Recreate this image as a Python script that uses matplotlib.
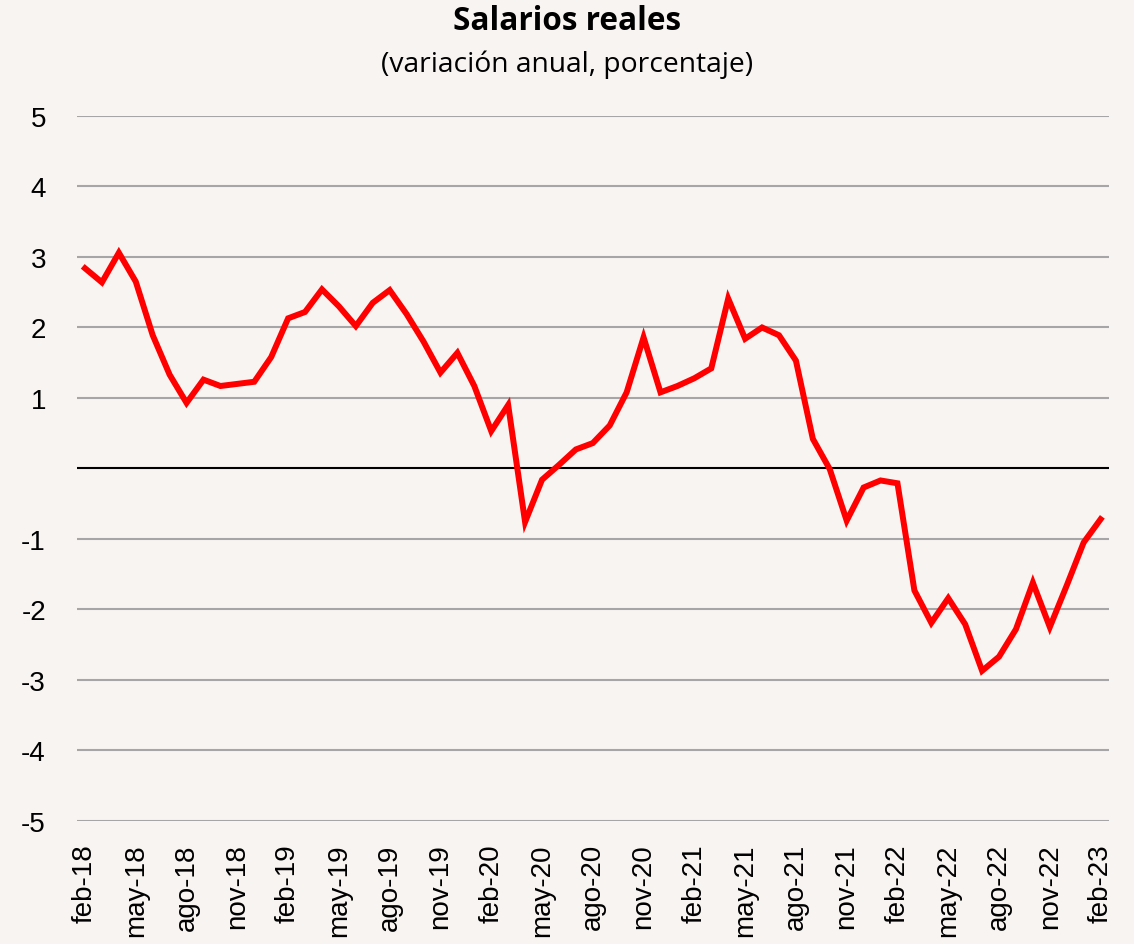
import matplotlib.pyplot as plt

# monthly real wage growth, feb-18 .. feb-23
months = ['ene', 'feb', 'mar', 'abr', 'may', 'jun', 'jul', 'ago', 'sep', 'oct', 'nov', 'dic']
values = [2.84, 2.64, 3.06, 2.65, 1.89, 1.33, 0.93, 1.26, 1.17, 1.20, 1.23, 1.58,
          2.13, 2.22, 2.54, 2.30, 2.02, 2.35, 2.53, 2.19, 1.80, 1.36, 1.64, 1.17,
          0.53, 0.90, -0.76, -0.16, 0.05, 0.27, 0.36, 0.61, 1.08, 1.86, 1.08, 1.17,
          1.28, 1.42, 2.41, 1.84, 2.00, 1.89, 1.53, 0.42, -0.01, -0.74, -0.27, -0.17,
          -0.21, -1.73, -2.19, -1.84, -2.21, -2.87, -2.67, -2.28, -1.62, -2.25, -1.66, -1.05,
          -0.72]

labels = []
for i in range(len(values)):
    m = (1 + i) % 12
    y = 18 + (1 + i) // 12
    labels.append(f'{months[m]}-{y}')

bg = '#f7f4f1'
fig = plt.figure(figsize=(11.34, 9.45), dpi=100, facecolor=bg)
ax = fig.add_axes([0.0675, 0.1302, 0.9105, 0.746], facecolor=bg)

x = list(range(len(values)))
ax.plot(x, values, color='#ff0000', lw=4.3, solid_joinstyle='miter', zorder=3)

ax.set_xlim(-0.5, len(values) - 0.5)
ax.set_ylim(-5, 5)
yticks = [5, 4, 3, 2, 1, -1, -2, -3, -4, -5]
ax.set_yticks(yticks)
ax.set_yticklabels([str(t) for t in yticks])
for t in yticks:
    ax.axhline(t, color='#a6a6a6', lw=1.5, zorder=1)
ax.axhline(0, color='black', lw=1.5, zorder=2)

ax.set_xticks(x[::3])
ax.set_xticklabels(labels[::3], rotation=90, family='Liberation Sans', fontsize=20)
for lab in ax.get_yticklabels():
    lab.set_family('Liberation Sans')
    lab.set_fontsize(20)
ax.tick_params(axis='y', length=0, pad=22)
ax.tick_params(axis='x', length=0, pad=16)
for s in ax.spines.values():
    s.set_visible(False)

fig.text(0.5, 0.977, 'Salarios reales', ha='center', va='center',
         fontsize=22.7, fontweight='bold', family='Open Sans')
fig.text(0.5, 0.932, '(variación anual, porcentaje)', ha='center', va='center',
         fontsize=20.3, family='Open Sans')

fig.savefig('out.png', dpi=100, facecolor=bg)
